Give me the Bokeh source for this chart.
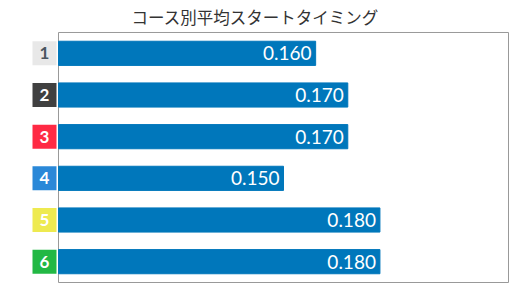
from bokeh.plotting import figure
from bokeh.models import Range1d
from bokeh.core.properties import value
from bokeh.embed import file_html
from bokeh.resources import INLINE

lanes = [1, 2, 3, 4, 5, 6]
lane_labels = ["1", "2", "3", "4", "5", "6"]
times = [0.160, 0.170, 0.170, 0.150, 0.180, 0.180]
time_labels = ["0.160", "0.170", "0.170", "0.150", "0.180", "0.180"]
box_colors = ["#e8e8e8", "#404040", "#ff2a44", "#2a88d8", "#eeea50", "#22b844"]
box_text_colors = ["#4a5560", "#ffffff", "#ffffff", "#ffffff", "#ffffff", "#ffffff"]
title_text = "コース別平均スタートタイミング"

x_start, x_end = 0.08, 0.22
k = (x_end - x_start) / 450.0  # data units per pixel
ky = 1 / 41.667

p = figure(width=530, height=290, output_backend="svg", toolbar_location=None,
           x_range=Range1d(x_start - 28 * k, x_end + 2 * k),
           y_range=Range1d(6.5 + 4 * ky, 0.5 - 2 * ky),
           min_border_left=30, min_border_right=20, min_border_top=30, min_border_bottom=4,
           title=title_text)
p.axis.visible = False
p.grid.visible = False
p.outline_line_color = None
p.background_fill_color = "white"
p.border_fill_color = "white"
p.title.text_font = "Noto Sans CJK JP"
p.title.text_font_size = "16.5px"
p.title.text_font_style = "normal"
p.title.text_color = "#333333"
p.title.align = "left"
p.title.offset = 101
p.title.standoff = 0
p.title.vertical_align = "top"

# frame border
p.quad(left=[x_start], right=[x_end], top=[0.5], bottom=[6.5],
       fill_color=None, line_color="#999999", line_width=1)

p.hbar(y=lanes, left=x_start, right=times, height=0.58, color="#0077bb")
p.text(x=times, y=lanes, text=time_labels, x_offset=-4, text_align="right",
       text_baseline="middle", text_color="white", text_font=value("Lato"),
       text_font_size="19px")

p.rect(x=[x_start - 14 * k] * 6, y=lanes, width=24, height=24,
       width_units="screen", height_units="screen", fill_color=box_colors, line_color=None)
p.text(x=[x_start - 14 * k] * 6, y=lanes, text=lane_labels, text_align="center",
       text_baseline="middle", text_color=box_text_colors, text_font=value("Lato"),
       text_font_size="17px", text_font_style="bold")

open("out.html", "w").write(file_html(p, INLINE))
